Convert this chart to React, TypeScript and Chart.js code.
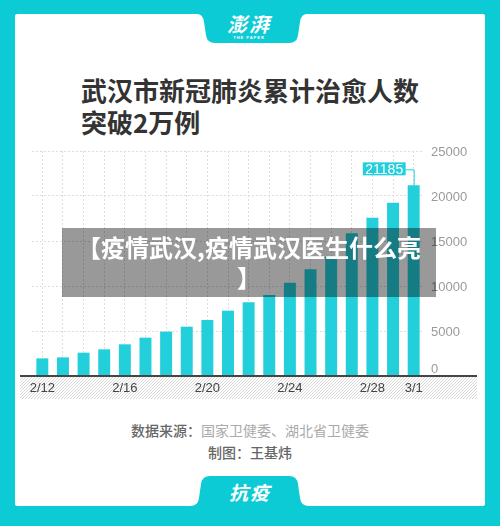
import React, { useEffect, useRef } from 'react';
import { Chart, registerables } from 'chart.js';

Chart.register(...registerables);

const dates = ['2/12', '2/13', '2/14', '2/15', '2/16', '2/17', '2/18', '2/19', '2/20', '2/21', '2/22', '2/23', '2/24', '2/25', '2/26', '2/27', '2/28', '2/29', '3/1'];
const shownDates = ['2/12', '2/16', '2/20', '2/24', '2/28', '3/1'];
const cured = [1960, 2070, 2590, 2960, 3520, 4260, 4930, 5480, 6220, 7260, 8190, 9000, 10370, 11850, 13260, 15850, 17590, 19260, 21185];
const yTicks = [0, 5000, 10000, 15000, 20000, 25000];
const highlightIndex = 18;

const TEAL = '#0dcbd4';
const BAR = '#24cfdc';
const NUM_FONT = '"Liberation Sans", Arial, sans-serif';
const CJK = '"Noto Sans CJK SC", "Noto Sans", sans-serif';

const decor = {
  id: 'decor',
  beforeDraw(chart: any) {
    const { ctx, chartArea, width } = chart;
    const pc = document.createElement('canvas');
    pc.width = 3;
    pc.height = 3;
    const p = pc.getContext('2d')!;
    p.fillStyle = '#ffffff';
    p.fillRect(0, 0, 3, 3);
    p.strokeStyle = '#d6d6d6';
    p.lineWidth = 1;
    p.beginPath();
    p.moveTo(-1, 4);
    p.lineTo(4, -1);
    p.stroke();
    const pat = ctx.createPattern(pc, 'repeat');
    ctx.save();
    ctx.fillStyle = pat;
    ctx.fillRect(0, chartArea.bottom, width - 1, 23);
    ctx.restore();
  },
  afterDraw(chart: any) {
    const { ctx, chartArea, width } = chart;
    ctx.save();
    ctx.fillStyle = '#454545';
    ctx.fillRect(0, chartArea.bottom - 1, width - 1, 2);
    const ys = chart.scales.y;
    ctx.font = '13px ' + NUM_FONT;
    ctx.fillStyle = '#9a9a9a';
    ctx.textBaseline = 'middle';
    ctx.textAlign = 'left';
    yTicks.forEach((v) => {
      const y = ys.getPixelForValue(v) + (v === 0 ? -7 : 1);
      ctx.fillText(String(v), chartArea.right + 7, y);
    });
    const bar = chart.getDatasetMeta(0).data[highlightIndex];
    const label = String(cured[highlightIndex]);
    ctx.font = '14px ' + NUM_FONT;
    const tw = ctx.measureText(label).width;
    const boxR = bar.x - 8;
    const boxW = tw + 5;
    const cy = bar.y - 16;
    ctx.strokeStyle = BAR;
    ctx.lineWidth = 1;
    ctx.beginPath();
    ctx.moveTo(boxR, cy + 0.5);
    ctx.lineTo(bar.x + 0.5, cy + 0.5);
    ctx.lineTo(bar.x + 0.5, bar.y);
    ctx.stroke();
    ctx.fillStyle = BAR;
    ctx.fillRect(boxR - boxW, cy - 7, boxW, 13);
    ctx.fillStyle = '#ffffff';
    ctx.textAlign = 'center';
    ctx.fillText(label, boxR - boxW / 2, cy + 0.5);
    ctx.restore();
  },
};

function BarChart() {
  const ref = useRef<HTMLCanvasElement | null>(null);
  useEffect(() => {
    if (!ref.current) return;
    const chart = new Chart(ref.current, {
      type: 'bar',
      data: {
        labels: dates,
        datasets: [
          {
            data: cured,
            backgroundColor: BAR,
            borderWidth: 0,
            categoryPercentage: 1,
            barPercentage: 0.58,
          },
        ],
      },
      options: {
        responsive: false,
        animation: false,
        layout: { padding: { left: 12, top: 11, right: 0, bottom: 0 } },
        plugins: { legend: { display: false }, tooltip: { enabled: false } },
        scales: {
          x: {
            offset: true,
            grid: { offset: false, color: '#dddddd', drawTicks: false, lineWidth: 1 },
            border: { display: false, dash: [2, 2] },
            ticks: {
              autoSkip: false,
              maxRotation: 0,
              minRotation: 0,
              color: '#444444',
              padding: 5,
              font: { size: 13, family: NUM_FONT },
              callback: (_v: any, i: number) => (shownDates.includes(dates[i]) ? dates[i] : ''),
            },
            afterFit: (s: any) => {
              s.height = 26;
            },
          },
          y: {
            position: 'right',
            min: 0,
            max: 25000,
            ticks: { stepSize: 5000, display: false },
            grid: { color: '#dddddd', drawTicks: false, lineWidth: 1 },
            border: { display: false, dash: [2, 2] },
            afterFit: (s: any) => {
              s.width = 54;
            },
          },
        },
      } as any,
      plugins: [decor],
    });
    return () => chart.destroy();
  }, []);
  return <canvas ref={ref} width={458} height={262} style={{ position: 'absolute', left: 20, top: 140, width: 458, height: 262 }} />;
}

export default function App() {
  useEffect(() => {
    document.body.style.margin = '0';
  }, []);
  return (
    <div style={{ position: 'relative', width: 500, height: 526, background: TEAL, overflow: 'hidden', fontFamily: CJK }}>
      <div style={{ position: 'absolute', left: 15, top: 14, width: 470, height: 492, background: '#ffffff', borderRadius: 2 }} />
      <svg width={500} height={526} style={{ position: 'absolute', left: 0, top: 0 }}>
        <path d="M197,14 Q203,14 204,22 L206,35 Q207,43 215,43 L289,43 Q297,43 298,35 L300,22 Q301,14 307,14 Z" fill={TEAL} />
        <path d="M190,506 Q198,506 199,498 L201,484 Q202,476 210,476 L289,476 Q297,476 298,484 L300,498 Q301,506 309,506 Z" fill={TEAL} />
        <text x={249} y={32} textAnchor="middle" fill="#ffffff" fontSize={20} fontWeight={700} fontStyle="italic" fontFamily={CJK} letterSpacing={2}>澎湃</text>
        <text x={249} y={38.5} textAnchor="middle" fill="#ffffff" fontSize={4} fontWeight={700} fontFamily={NUM_FONT} letterSpacing={1}>THE PAPER</text>
        <text x={250} y={500} textAnchor="middle" fill="#ffffff" fontSize={19} fontWeight={700} fontStyle="italic" fontFamily={CJK} letterSpacing={2}>抗疫</text>
      </svg>
      <div style={{ position: 'absolute', left: 81, top: 74, fontSize: 26, lineHeight: '32px', fontWeight: 700, color: '#333333', whiteSpace: 'nowrap' }}>
        <div>武汉市新冠肺炎累计治愈人数</div>
        <div>突破2万例</div>
      </div>
      <BarChart />
      <div style={{ position: 'absolute', left: 0, width: 500, top: 419, textAlign: 'center', fontSize: 14, lineHeight: '22px', whiteSpace: 'nowrap' }}>
        <div>
          <span style={{ color: '#666666', fontWeight: 500 }}>数据来源：</span>
          <span style={{ color: '#aaaaaa' }}>国家卫健委、湖北省卫健委</span>
        </div>
        <div style={{ color: '#666666', fontWeight: 500 }}>制图：王基炜</div>
      </div>
      <div
        style={{
          position: 'absolute',
          left: 62,
          top: 228,
          width: 374,
          height: 69,
          background: 'rgba(0,0,0,0.4)',
          color: '#ffffff',
          fontWeight: 700,
          fontSize: 24,
          lineHeight: '30px',
          textAlign: 'center',
          paddingTop: 4,
          boxSizing: 'border-box',
          whiteSpace: 'nowrap',
        }}
      >
        <div>【疫情武汉,疫情武汉医生什么亮</div>
        <div>】</div>
      </div>
    </div>
  );
}
